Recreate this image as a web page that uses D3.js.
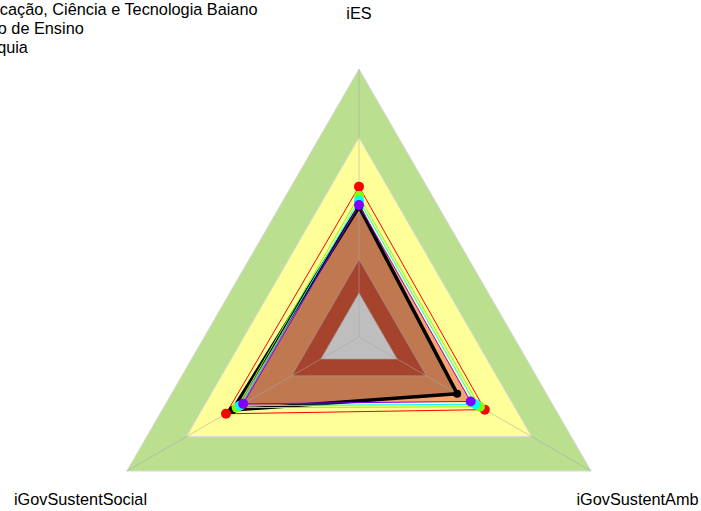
<!DOCTYPE html>
<html>
<head>
<meta charset="utf-8">
<script src="https://cdn.jsdelivr.net/npm/d3@7"></script>
<style>
  html, body { margin: 0; padding: 0; background: #ffffff; }
  svg { display: block; font-family: "Liberation Sans", Arial, sans-serif; }
</style>
</head>
<body>
<svg id="chart" width="701" height="511"></svg>
<script>
// Axes of the radar, clockwise from the top
const axes = ["iES", "iGovSustentAmb", "iGovSustentSocial"];

// Background rating bands (outer edge on the radial scale), drawn outer first
const bandEdges  = [1.0, 0.744];
const bandColors = ["#b9df8f", "#ffff99"];
// Inner bands drawn over the filled areas
const innerBandEdges  = [0.29, 0.164];
const innerBandColors = ["#a6432c", "#bebebe"];

// Institution being assessed (thick black outline, filled)
const institutionName = "Instituto Federal de Educação, Ciência e Tecnologia Baiano";
const institutionValues = [0.486, 0.423, 0.545];
const institutionFill = "#c07850";

// Comparison groups
const groupNames  = ["Grupo 1", "Grupo 2", "Grupo 3", "Grupo 4"];
const groupColors = ["#FF0000", "#80FF00", "#00FFFF", "#8000FF"];
const groupValues = [
  [0.561, 0.542, 0.573],
  [0.526, 0.521, 0.527],
  [0.509, 0.502, 0.513],
  [0.4925, 0.481, 0.499]
];
// Filled area under the last comparison group
const groupFill = "#f9a46d";

// Legend entries
const legendLabels = [
  "Instituto Federal de Educação, Ciência e Tecnologia Baiano",
  "Média Total Organização de Ensino",
  "Natureza Jurídica Autarquia"
];
const legendColors = ["#000000", "#FF0000", "#80FF00"];

const svg = d3.select("#chart");
const cx = 359, cy = 337, R = 268;
const fontSize = 16.3;

const r = d3.scaleLinear().domain([0, 1]).range([0, R]);
const angle = i => i * 2 * Math.PI / axes.length;

const g = svg.append("g").attr("transform", `translate(${cx},${cy})`);

const radial = d3.lineRadial()
  .angle((d, i) => angle(i))
  .radius(d => r(d))
  .curve(d3.curveLinearClosed);

const ring = v => axes.map(() => v);

// outer bands
bandEdges.forEach((v, k) => {
  g.append("path")
    .attr("d", radial(ring(v)))
    .attr("fill", bandColors[k])
    .attr("stroke", "#d8d8d8")
    .attr("stroke-width", 1);
});

// filled areas
g.append("path")
  .attr("d", radial(groupValues[groupValues.length - 1]))
  .attr("fill", groupFill)
  .attr("stroke", "none");
g.append("path")
  .attr("d", radial(institutionValues))
  .attr("fill", institutionFill)
  .attr("stroke", "none");

// inner bands
innerBandEdges.forEach((v, k) => {
  g.append("path")
    .attr("d", radial(ring(v)))
    .attr("fill", innerBandColors[k])
    .attr("stroke", "#a0a0a0")
    .attr("stroke-opacity", 0.6)
    .attr("stroke-width", 1);
});

// axis spokes
axes.forEach((a, i) => {
  const p = d3.pointRadial(angle(i), r(1));
  g.append("line")
    .attr("x1", 0).attr("y1", 0)
    .attr("x2", p[0]).attr("y2", p[1])
    .attr("stroke", "#a8a8a8")
    .attr("stroke-opacity", 0.55)
    .attr("stroke-width", 1);
});

// series outlines
g.append("path")
  .attr("d", radial(institutionValues))
  .attr("fill", "none")
  .attr("stroke", "#000")
  .attr("stroke-width", 3.5)
  .attr("stroke-linejoin", "round");

groupValues.forEach((vals, k) => {
  g.append("path")
    .attr("d", radial(vals))
    .attr("fill", "none")
    .attr("stroke", groupColors[k])
    .attr("stroke-width", 1);
});

// series points
institutionValues.forEach((v, i) => {
  const p = d3.pointRadial(angle(i), r(v));
  g.append("circle").attr("cx", p[0]).attr("cy", p[1]).attr("r", 4).attr("fill", "#000");
});
groupValues.forEach((vals, k) => {
  vals.forEach((v, i) => {
    const p = d3.pointRadial(angle(i), r(v));
    g.append("circle").attr("cx", p[0]).attr("cy", p[1]).attr("r", 5).attr("fill", groupColors[k]);
  });
});

// axis labels
axes.forEach((a, i) => {
  const p = d3.pointRadial(angle(i), r(1.2));
  g.append("text")
    .attr("x", p[0]).attr("y", p[1])
    .attr("dy", i === 0 ? "0.24em" : "0.44em")
    .attr("text-anchor", "middle")
    .attr("font-size", fontSize)
    .attr("fill", "#000")
    .text(a);
});

// legend (top-left, extends past the left edge)
const legendX = -173, legendY = 14.5, legendStep = 19;
const legend = svg.append("g").attr("transform", `translate(${legendX},${legendY})`);
legendLabels.forEach((lab, k) => {
  const row = legend.append("g").attr("transform", `translate(0,${k * legendStep})`);
  row.append("line")
    .attr("x1", -34).attr("x2", -10).attr("y1", -5).attr("y2", -5)
    .attr("stroke", legendColors[k]).attr("stroke-width", k === 0 ? 3.5 : 1);
  row.append("circle").attr("cx", -22).attr("cy", -5).attr("r", 4).attr("fill", legendColors[k]);
  row.append("text")
    .attr("x", 0).attr("y", 0)
    .attr("font-size", fontSize)
    .attr("fill", "#000")
    .text(lab);
});
</script>
</body>
</html>
